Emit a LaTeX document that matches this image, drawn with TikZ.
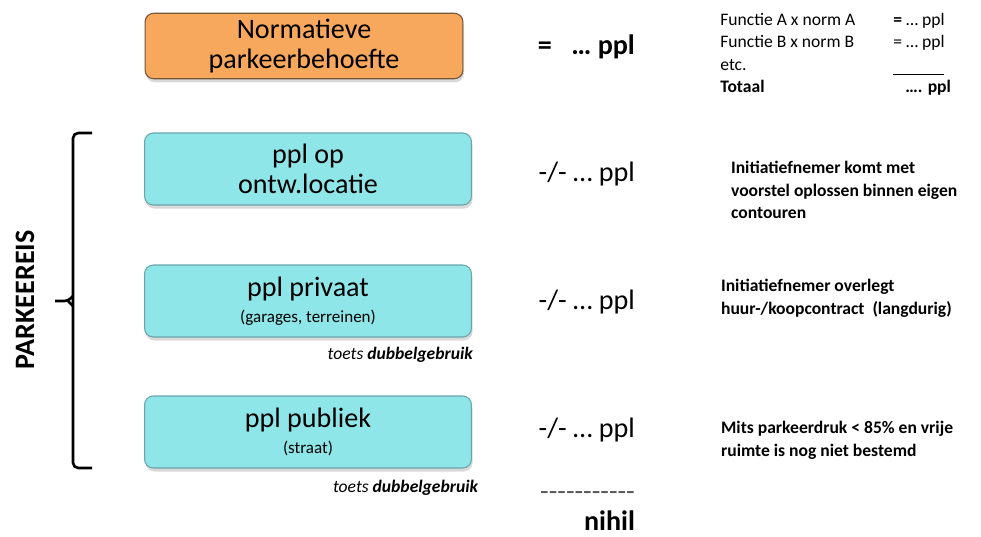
\documentclass[tikz,border=0pt]{standalone}
\usepackage{fontspec}
\setmainfont{Carlito}
\usetikzlibrary{positioning,shadows}
\definecolor{normfill}{RGB}{248,168,92}
\definecolor{normline}{RGB}{115,85,55}
\definecolor{pplfill}{RGB}{142,230,232}
\definecolor{pplline}{RGB}{105,165,170}

\begin{document}
\begin{tikzpicture}[x=0.02cm,y=-0.02cm,
    pplbox/.style={draw=pplline, fill=pplfill, rounded corners=5pt, line width=0.6pt,
      minimum width=6.54cm, minimum height=1.44cm, align=center,
      font=\fontsize{16}{17}\selectfont,
      drop shadow={shadow xshift=0.6pt, shadow yshift=-2pt, opacity=0.3}},
    pplcount/.style={anchor=east, inner sep=1pt, font=\fontsize{16}{18}\selectfont},
    toets/.style={anchor=north east, font=\itshape\fontsize{10}{12}\selectfont},
    remark/.style={anchor=west, align=left, inner sep=1pt, font=\bfseries\fontsize{10}{13}\selectfont}]
    \useasboundingbox (0,0) rectangle (981,537);
    % linker kolom: blokken
    \node (norm) [pplbox, draw=normline, fill=normfill, minimum width=6.36cm, minimum height=1.24cm] at (304,46) {Normatieve\\parkeerbehoefte};
    \node (eigen) [pplbox] at (308,169) {ppl op\\ontw.locatie};
    \node (privaat) [pplbox] at (308,301) {ppl privaat\\[-2pt]{\fontsize{9.7}{11}\selectfont (garages, terreinen)}};
    \node (publiek) [pplbox] at (308,432) {ppl publiek\\[-2pt]{\fontsize{9.7}{11}\selectfont (straat)}};
    \node (toetsA) [below=2pt of privaat.south east, toets, xshift=4pt] {toets \textbf{dubbelgebruik}};
    \node (toetsB) [below=3pt of publiek.south east, toets, xshift=7pt] {toets \textbf{dubbelgebruik}};
    % accolade
    \draw [line width=1.5pt, rounded corners=3pt] (92,133) -- (73,133) -- (73,468) -- (92,468);
    \draw [line width=1.5pt, rounded corners=2pt] (55,301) -- (68,301) -- (73,296);
    \draw [line width=1.5pt, rounded corners=2pt] (68,301) -- (73,306);
    \node (reis) [rotate=90, font=\bfseries\fontsize{16}{18}\selectfont] at (25,300) {PARKEEREIS};
    % middelste kolom
    \node (totaal) [pplcount, font=\bfseries\fontsize{16}{18}\selectfont] at (637,47) {=\hspace{0.7em}… ppl};
    \node (ppl1) [pplcount] at (637,174) {-/- … ppl};
    \node (ppl2) [pplcount] at (637,302) {-/- … ppl};
    \node (ppl3) [pplcount] at (637,430) {-/- … ppl};
    \node (streep) [pplcount, text=black!65] at (637,496) {-{}-{}-{}-{}-{}-{}-{}-{}-{}-{}-};
    \node (nihil) [pplcount, font=\bfseries\fontsize{16}{18}\selectfont] at (637,521) {nihil};
    % rechter kolom
    \node (som) [anchor=north west, inner sep=0pt, font=\fontsize{10}{12.6}\selectfont] at (720,10) {%
      \begin{tabular}{@{}p{3.46cm}@{}l@{}}
        Functie A x norm A & \textbf{=} … ppl\\
        Functie B x norm B & = … ppl\\
        etc. & \rule[-3pt]{1.02cm}{0.6pt}\\
        \textbf{Totaal} & \hspace{0.24cm}\textbf{…. ppl}
      \end{tabular}};
    \node (opm1) [remark] at (729,190) {Initiatiefnemer komt met\\voorstel oplossen binnen eigen\\contouren};
    \node (opm2) [remark] at (719,298) {Initiatiefnemer overlegt\\huur-/koopcontract\ \ (langdurig)};
    \node (opm3) [remark] at (719,440) {Mits parkeerdruk < 85\% en vrije\\ruimte is nog niet bestemd};
\end{tikzpicture}
\end{document}
